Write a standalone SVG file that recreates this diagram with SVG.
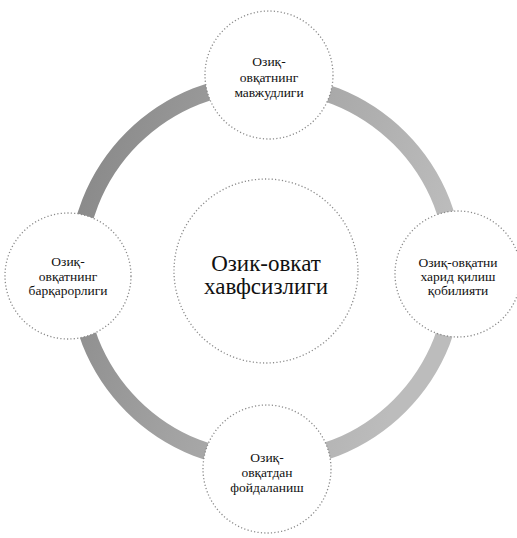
<svg xmlns="http://www.w3.org/2000/svg" width="517" height="538" viewBox="0 0 517 538">
  <style>
    .node { fill: #ffffff; stroke: #8a8a8a; stroke-width: 1.3; stroke-dasharray: 1.2 2.2; }
    .lbl { font-family: "Liberation Serif", "DejaVu Serif", serif; font-size: 13.5px; fill: #111111; text-anchor: middle; }
    .big { font-family: "Liberation Serif", "DejaVu Serif", serif; font-size: 23px; fill: #111111; text-anchor: middle; }
  </style>
  <defs>
    <linearGradient id="ringShade" x1="0" y1="0" x2="1" y2="0.3">
      <stop offset="0" stop-color="#858585"/>
      <stop offset="0.5" stop-color="#a3a3a3"/>
      <stop offset="1" stop-color="#bcbcbc"/>
    </linearGradient>
  </defs>
  <rect width="517" height="538" fill="#ffffff"/>

  <g id="connectors">
    <circle cx="266" cy="272" r="189" fill="none" stroke="url(#ringShade)" stroke-width="17"/>
  </g>

  <g id="node-center">
    <circle class="node" cx="266" cy="271" r="92"/>
    <text class="big" x="266" y="271">Озик-овкат</text>
    <text class="big" x="266" y="294">хавфсизлиги</text>
  </g>

  <g id="node-top">
    <circle class="node" cx="269" cy="75" r="64"/>
    <text class="lbl" x="269" y="66">Озиқ-</text>
    <text class="lbl" x="269" y="82">овқатнинг</text>
    <text class="lbl" x="269" y="97">мавжудлиги</text>
  </g>

  <g id="node-left">
    <circle class="node" cx="68" cy="276" r="63"/>
    <text class="lbl" x="68" y="266">Озиқ-</text>
    <text class="lbl" x="68" y="281">овқатнинг</text>
    <text class="lbl" x="68" y="295">барқарорлиги</text>
  </g>

  <g id="node-right">
    <circle class="node" cx="458" cy="274" r="63"/>
    <text class="lbl" x="458" y="267">Озиқ-овқатни</text>
    <text class="lbl" x="458" y="281">харид қилиш</text>
    <text class="lbl" x="458" y="295">қобилияти</text>
  </g>

  <g id="node-bottom">
    <circle class="node" cx="267" cy="469" r="64"/>
    <text class="lbl" x="267" y="462">Озиқ-</text>
    <text class="lbl" x="267" y="477">овқатдан</text>
    <text class="lbl" x="267" y="492">фойдаланиш</text>
  </g>
</svg>
